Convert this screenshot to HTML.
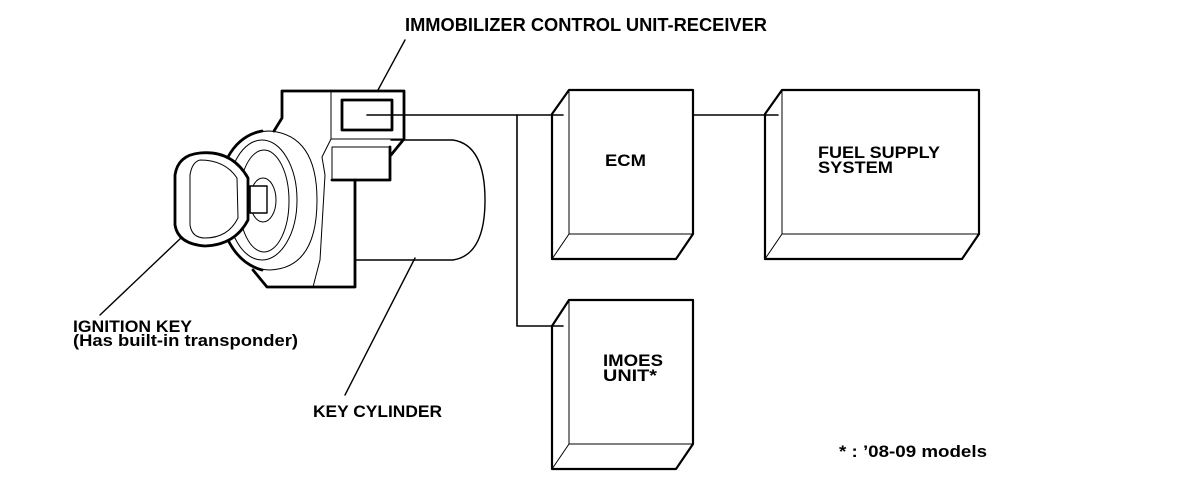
<!DOCTYPE html>
<html><head><meta charset="utf-8"><style>
html,body{margin:0;padding:0;background:#fff;}
svg{display:block;}
text{font-family:"Liberation Sans",Arial,sans-serif;font-weight:bold;fill:#000;}
</style></head><body>
<svg width="1184" height="492" viewBox="0 0 1184 492" xmlns="http://www.w3.org/2000/svg">
<g fill="none" stroke="#000" stroke-linejoin="round" stroke-linecap="round">
<path d="M391,140 L453,140 Q485,145 485,200 Q485,255 453,260 L355,260" stroke-width="1.4" fill="#fff"/>
<path d="M274,131 L282,118 L282,91 L404,91 L404,139 L391,155" stroke-width="2.8"/>
<path d="M355,180 L355,287 L267,287 L253,270" stroke-width="2.8"/>
<path d="M331,91 L331,139 L404,139" stroke-width="1"/>
<path d="M331,139 L322,157 L325,175 L320,260 L313,287" stroke-width="1"/>
<rect x="342" y="100" width="50" height="30" stroke-width="2.8"/>
<path d="M332,147 L390,147 L390,180 L332,180 Z" stroke-width="1"/>
<path d="M390,147 L390,180 L332,180" stroke-width="2.8"/>
<path d="M228,157 Q245,131 270,131 Q317,135 317,200 Q317,268 270,270 Q245,270 228,240" stroke-width="1"/>
<path d="M228,157 Q240,135 262,131 M228,240 Q240,264 262,270" stroke-width="2.8"/>
<ellipse cx="262" cy="200" rx="35" ry="60" stroke-width="1"/>
<ellipse cx="264" cy="201" rx="25" ry="51" stroke-width="1"/>
<ellipse cx="263" cy="200" rx="13" ry="22" stroke-width="1"/>
<rect x="250" y="186" width="17" height="27" stroke-width="1.4" fill="#fff"/>
<path d="M200,153 Q232,150 248,178 L248,220 Q235,245 205,246 Q178,244 175,225 L175,175 Q178,155 200,153 Z" stroke-width="2.8" fill="#fff"/>
<path d="M200,160 Q225,160 237,178 L238,218 Q228,238 205,238 Q192,238 190,225 L190,175 Q192,162 200,160 Z" stroke-width="1"/>
<path d="M250,186 L250,213" stroke-width="1.4"/>
<path d="M378,90 L405,40" stroke-width="1.4"/>
<path d="M182,237 L100,315" stroke-width="1.4"/>
<path d="M415,258 L345,395" stroke-width="1.4"/>
<path d="M367,115 L563,115" stroke-width="1.6"/>
<path d="M517,115 L517,326 L563,326" stroke-width="1.6"/>
<path d="M693,115 L778,115" stroke-width="1.6"/>
<path d="M552,114 L569,90 L693,90 L693,234 L676,259 L552,259 Z" stroke-width="2.2"/>
<path d="M569,90 L569,234 L693,234 M552,259 L569,234" stroke-width="1"/>
<path d="M765,114 L782,90 L979,90 L979,234 L962,259 L765,259 Z" stroke-width="2.2"/>
<path d="M782,90 L782,234 L979,234 M765,259 L782,234" stroke-width="1"/>
<path d="M552,326 L569,300 L693,300 L693,444 L676,469 L552,469 Z" stroke-width="2.2"/>
<path d="M569,300 L569,444 L693,444 M552,469 L569,444" stroke-width="1"/>
</g>
<text x="405" y="31" font-size="18" textLength="362" lengthAdjust="spacingAndGlyphs">IMMOBILIZER CONTROL UNIT-RECEIVER</text>
<text x="605" y="166" font-size="17" textLength="41" lengthAdjust="spacingAndGlyphs">ECM</text>
<text x="818" y="158" font-size="17" textLength="122" lengthAdjust="spacingAndGlyphs">FUEL SUPPLY</text>
<text x="818" y="173" font-size="17" textLength="75" lengthAdjust="spacingAndGlyphs">SYSTEM</text>
<text x="603" y="366" font-size="17" textLength="60" lengthAdjust="spacingAndGlyphs">IMOES</text>
<text x="603" y="381" font-size="17" textLength="54" lengthAdjust="spacingAndGlyphs">UNIT*</text>
<text x="73" y="332" font-size="17" textLength="119" lengthAdjust="spacingAndGlyphs">IGNITION KEY</text>
<text x="73" y="346" font-size="17" textLength="225" lengthAdjust="spacingAndGlyphs">(Has built-in transponder)</text>
<text x="313" y="417" font-size="17" textLength="129" lengthAdjust="spacingAndGlyphs">KEY CYLINDER</text>
<text x="839" y="457" font-size="17" textLength="148" lengthAdjust="spacingAndGlyphs">* : ’08-09 models</text>
</svg>
</body></html>
